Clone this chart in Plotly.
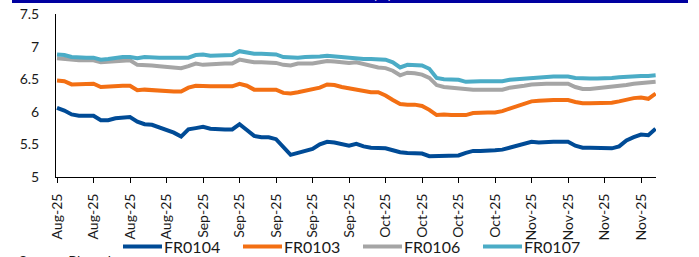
import plotly.graph_objects as go

tick_labels = ["Aug-25", "Aug-25", "Aug-25", "Aug-25",
               "Sep-25", "Sep-25", "Sep-25", "Sep-25", "Sep-25",
               "Oct-25", "Oct-25", "Oct-25", "Oct-25",
               "Nov-25", "Nov-25", "Nov-25", "Nov-25"]

fr0104 = [6.06, 6.02, 5.96, 5.94, 5.94, 5.94, 5.87, 5.87, 5.90, 5.91,
          5.92, 5.85, 5.81, 5.80, 5.76, 5.72, 5.68, 5.62, 5.73, 5.75,
          5.77, 5.74, 5.73, 5.73, 5.73, 5.81, 5.72, 5.63, 5.61, 5.61,
          5.58, 5.45, 5.34, 5.37, 5.40, 5.43, 5.50, 5.54, 5.53, 5.50,
          5.48, 5.51, 5.47, 5.45, 5.45, 5.44, 5.41, 5.38, 5.37, 5.37,
          5.36, 5.32, 5.32, 5.33, 5.33, 5.33, 5.37, 5.40, 5.40, 5.40,
          5.41, 5.42, 5.45, 5.48, 5.51, 5.54, 5.53, 5.54, 5.54, 5.54,
          5.54, 5.48, 5.45, 5.45, 5.45, 5.45, 5.44, 5.47, 5.56, 5.61,
          5.65, 5.64, 5.74]

fr0103 = [6.48, 6.47, 6.42, 6.42, 6.43, 6.43, 6.38, 6.39, 6.40, 6.40,
          6.40, 6.33, 6.34, 6.33, 6.32, 6.32, 6.31, 6.31, 6.37, 6.40,
          6.39, 6.39, 6.39, 6.39, 6.39, 6.43, 6.40, 6.34, 6.34, 6.34,
          6.34, 6.29, 6.28, 6.30, 6.32, 6.34, 6.37, 6.42, 6.41, 6.38,
          6.36, 6.33, 6.32, 6.30, 6.30, 6.25, 6.18, 6.12, 6.11, 6.11,
          6.09, 6.03, 5.95, 5.96, 5.95, 5.95, 5.95, 5.98, 5.99, 5.99,
          5.99, 6.01, 6.05, 6.09, 6.13, 6.16, 6.17, 6.18, 6.18, 6.18,
          6.18, 6.15, 6.13, 6.13, 6.13, 6.14, 6.14, 6.16, 6.19, 6.21,
          6.22, 6.20, 6.28]

fr0106 = [6.82, 6.81, 6.79, 6.79, 6.79, 6.79, 6.76, 6.77, 6.78, 6.79,
          6.79, 6.72, 6.72, 6.71, 6.70, 6.69, 6.68, 6.67, 6.70, 6.74,
          6.72, 6.73, 6.73, 6.74, 6.74, 6.80, 6.78, 6.76, 6.76, 6.75,
          6.75, 6.72, 6.71, 6.74, 6.74, 6.74, 6.76, 6.78, 6.77, 6.76,
          6.75, 6.76, 6.73, 6.70, 6.68, 6.67, 6.63, 6.56, 6.60, 6.59,
          6.57, 6.52, 6.41, 6.38, 6.37, 6.36, 6.34, 6.34, 6.34, 6.34,
          6.34, 6.34, 6.37, 6.38, 6.40, 6.42, 6.43, 6.43, 6.43, 6.43,
          6.43, 6.38, 6.35, 6.35, 6.36, 6.37, 6.39, 6.40, 6.41, 6.43,
          6.44, 6.45, 6.46]

fr0107 = [6.88, 6.87, 6.84, 6.83, 6.83, 6.83, 6.80, 6.81, 6.83, 6.84,
          6.84, 6.82, 6.84, 6.83, 6.83, 6.83, 6.83, 6.83, 6.83, 6.87,
          6.88, 6.86, 6.86, 6.86, 6.87, 6.93, 6.91, 6.89, 6.89, 6.89,
          6.88, 6.84, 6.83, 6.83, 6.84, 6.84, 6.85, 6.86, 6.85, 6.84,
          6.83, 6.81, 6.81, 6.81, 6.80, 6.80, 6.76, 6.68, 6.72, 6.72,
          6.71, 6.66, 6.52, 6.50, 6.49, 6.49, 6.46, 6.47, 6.47, 6.47,
          6.47, 6.47, 6.49, 6.50, 6.51, 6.52, 6.53, 6.54, 6.54, 6.54,
          6.54, 6.52, 6.51, 6.51, 6.51, 6.51, 6.52, 6.53, 6.54, 6.54,
          6.55, 6.55, 6.56]

series = [("FR0104", fr0104, "#004B96"),
          ("FR0103", fr0103, "#F36F13"),
          ("FR0106", fr0106, "#A5A5A5"),
          ("FR0107", fr0107, "#4BACC6")]

W, H = 699, 257
L, R, T, B = 56, 43, 14, 80
pw, ph = W - L - R, H - T - B

def px_x(p):
    return (p - L) / pw

def px_y(p):
    return (H - B - p) / ph

x = list(range(len(fr0104)))
tickvals = list(range(0, 5 * len(tick_labels), 5))

fig = go.Figure()
for name, vals, col in series:
    fig.add_trace(go.Scatter(x=x, y=vals, name=name, mode="lines",
                             line=dict(color=col, width=4), showlegend=False))

shapes = [dict(type="rect", xref="paper", yref="paper",
               x0=px_x(12), x1=px_x(688), y0=px_y(3), y1=px_y(-5),
               fillcolor="#0000A0", line=dict(width=0), layer="above")]
annotations = [
    dict(text="(%)", xref="paper", yref="paper", x=px_x(382), y=px_y(4),
         xanchor="center", yanchor="bottom", showarrow=False,
         font=dict(color="white", size=14)),
    dict(text="Source: Bloomberg", xref="paper", yref="paper",
         x=px_x(17), y=px_y(250), xanchor="left", yanchor="top",
         showarrow=False, font=dict(size=14, color="#1a1a1a")),
]

# manual legend: line swatch + label for each series
leg_y = px_y(246.5)
for k, (name, vals, col) in enumerate(series):
    x0 = 123 + 120 * k
    shapes.append(dict(type="line", xref="paper", yref="paper",
                       x0=px_x(x0), x1=px_x(x0 + 39), y0=leg_y, y1=leg_y,
                       line=dict(color=col, width=4)))
    annotations.append(dict(text=name, xref="paper", yref="paper",
                            x=px_x(x0 + 39), y=leg_y, xanchor="left",
                            yanchor="middle", showarrow=False,
                            font=dict(size=16, color="#1a1a1a")))

fig.update_layout(
    width=W, height=H,
    margin=dict(l=L, r=R, t=T, b=B, autoexpand=False),
    paper_bgcolor="white", plot_bgcolor="white",
    font=dict(family="Lato", size=14, color="#1a1a1a"),
    showlegend=False,
    xaxis=dict(range=[-0.14, 82.05], tickmode="array", tickvals=tickvals,
               ticktext=tick_labels, tickangle=-90, ticks="outside",
               ticklen=5, tickcolor="black", showline=True, linecolor="black",
               linewidth=1, showgrid=False, zeroline=False, automargin=False,
               ticklabelstandoff=5),
    yaxis=dict(range=[5, 7.5], dtick=0.5, tick0=5, showline=True,
               linecolor="black", linewidth=1, showgrid=False, zeroline=False,
               ticks="", ticklabelstandoff=13, automargin=False),
    shapes=shapes,
    annotations=annotations,
)

fig.write_html("out.html", config={"displayModeBar": False},
               post_script="document.body.style.margin='0';")
